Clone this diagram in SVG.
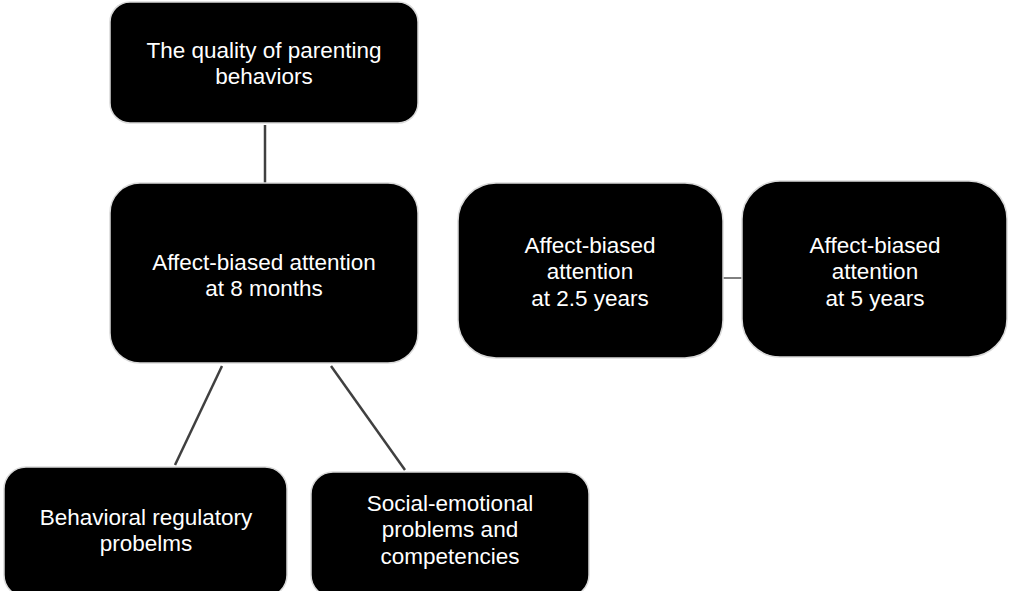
<svg xmlns="http://www.w3.org/2000/svg" width="1009" height="591" viewBox="0 0 1009 591">
<style>
.box{fill:#000;stroke:#d9d9d9;stroke-width:1.5}
.t{fill:#fff;font-family:"Liberation Sans",Arial,sans-serif;font-size:22.5px;text-anchor:middle}
.c{stroke:#404040;stroke-width:2.5;fill:none}
</style>
<rect width="1009" height="591" fill="#fff"/>
<g id="connectors">
<line class="c" x1="265" y1="125" x2="265" y2="183"/>
<line class="c" x1="222" y1="366" x2="175" y2="465"/>
<line class="c" x1="331" y1="366" x2="405" y2="470"/>
<line x1="723" y1="278" x2="742" y2="278" stroke="#000" stroke-width="1"/>
</g>
<g id="n1">
<rect class="box" x="110" y="2" width="308" height="121" rx="20"/>
<text class="t" x="264" y="58">The quality of parenting</text>
<text class="t" x="264" y="84">behaviors</text>
</g>
<g id="n2">
<rect class="box" x="110" y="183" width="308" height="180" rx="30"/>
<text class="t" x="264" y="270">Affect-biased attention</text>
<text class="t" x="264" y="296">at 8 months</text>
</g>
<g id="n3">
<rect class="box" x="458" y="183" width="265" height="175" rx="38"/>
<text class="t" x="590" y="253">Affect-biased</text>
<text class="t" x="590" y="279">attention</text>
<text class="t" x="590" y="306">at 2.5 years</text>
</g>
<g id="n4">
<rect class="box" x="742" y="181" width="265" height="176" rx="38"/>
<text class="t" x="875" y="253">Affect-biased</text>
<text class="t" x="875" y="279">attention</text>
<text class="t" x="875" y="306">at 5 years</text>
</g>
<g id="n5">
<rect class="box" x="4" y="467" width="283" height="130" rx="22"/>
<text class="t" x="146" y="525">Behavioral regulatory</text>
<text class="t" x="146" y="551">probelms</text>
</g>
<g id="n6">
<rect class="box" x="311" y="472" width="278" height="125" rx="22"/>
<text class="t" x="450" y="511">Social-emotional</text>
<text class="t" x="450" y="537">problems and</text>
<text class="t" x="450" y="564">competencies</text>
</g>
</svg>
